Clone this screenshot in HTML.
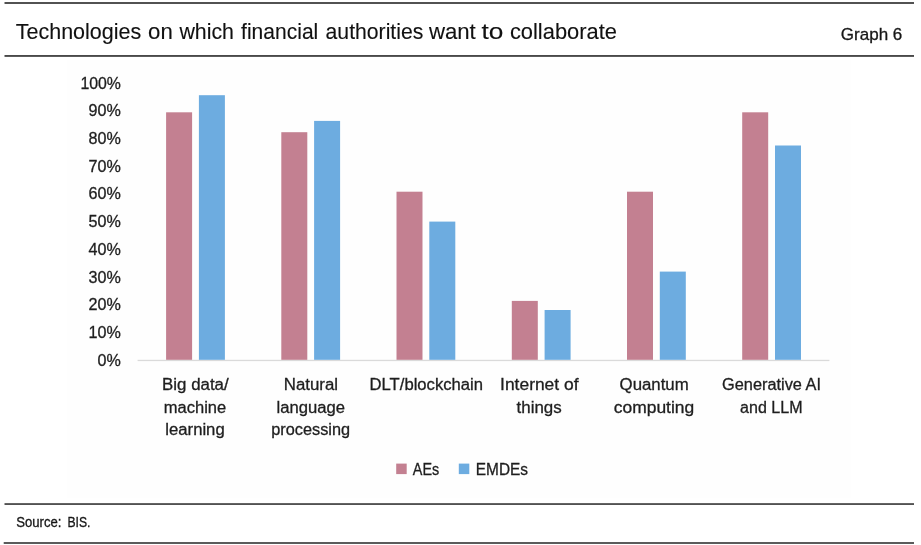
<!DOCTYPE html>
<html lang="en">
<head>
<meta charset="utf-8">
<title>Technologies on which financial authorities want to collaborate</title>
<style>
html,body{margin:0;padding:0;background:#fff;}
body{width:921px;height:545px;overflow:hidden;}
svg{display:block;}
text{font-family:"Liberation Sans",sans-serif;fill:#161616;stroke:#161616;stroke-width:0.3px;}
.t{font-size:21.4px;fill:#111;stroke:#111;stroke-width:0.12px;}
.g{font-size:17px;}
.a{font-size:16.2px;fill:#1e1e1e;stroke:#1e1e1e;}
.x{font-size:16px;fill:#1e1e1e;stroke:#1e1e1e;}
.s{font-size:14.3px;}
</style>
</head>
<body>
<svg width="921" height="545" viewBox="0 0 921 545">
<rect width="921" height="545" fill="#ffffff"/>
<rect x="67" y="60" width="783.7" height="438" fill="#fefefe"/>
<rect x="4.5" y="2.10" width="909.5" height="1.8" fill="#404040"/>
<rect x="4.5" y="55.05" width="909.5" height="1.8" fill="#404040"/>
<rect x="4.5" y="503.20" width="909.5" height="1.7" fill="#404040"/>
<rect x="3.7" y="542.15" width="910.3" height="1.7" fill="#404040"/>
<text class="t" y="38.7"><tspan x="15.7" textLength="125.6" lengthAdjust="spacingAndGlyphs">Technologies</tspan> <tspan x="148.1" textLength="24.7" lengthAdjust="spacingAndGlyphs">on</tspan> <tspan x="179.4" textLength="54.6" lengthAdjust="spacingAndGlyphs">which</tspan> <tspan x="241.1" textLength="77.2" lengthAdjust="spacingAndGlyphs">financial</tspan> <tspan x="325.6" textLength="97.7" lengthAdjust="spacingAndGlyphs">authorities</tspan> <tspan x="428.9" textLength="46.9" lengthAdjust="spacingAndGlyphs">want</tspan> <tspan x="481.4" textLength="21.9" lengthAdjust="spacingAndGlyphs">to</tspan> <tspan x="509.9" textLength="107.1" lengthAdjust="spacingAndGlyphs">collaborate</tspan></text>
<text class="g" x="840.8" y="39.6" textLength="61.5" lengthAdjust="spacingAndGlyphs">Graph 6</text>
<text class="a" x="97.6" y="365.7" textLength="23.3" lengthAdjust="spacingAndGlyphs">0%</text>
<text class="a" x="88.6" y="338.0" textLength="32.3" lengthAdjust="spacingAndGlyphs">10%</text>
<text class="a" x="88.6" y="310.3" textLength="32.3" lengthAdjust="spacingAndGlyphs">20%</text>
<text class="a" x="88.6" y="282.5" textLength="32.3" lengthAdjust="spacingAndGlyphs">30%</text>
<text class="a" x="88.6" y="254.8" textLength="32.3" lengthAdjust="spacingAndGlyphs">40%</text>
<text class="a" x="88.6" y="227.1" textLength="32.3" lengthAdjust="spacingAndGlyphs">50%</text>
<text class="a" x="88.6" y="199.4" textLength="32.3" lengthAdjust="spacingAndGlyphs">60%</text>
<text class="a" x="88.6" y="171.7" textLength="32.3" lengthAdjust="spacingAndGlyphs">70%</text>
<text class="a" x="88.6" y="143.9" textLength="32.3" lengthAdjust="spacingAndGlyphs">80%</text>
<text class="a" x="88.6" y="116.2" textLength="32.3" lengthAdjust="spacingAndGlyphs">90%</text>
<text class="a" x="80.4" y="88.5" textLength="40.5" lengthAdjust="spacingAndGlyphs">100%</text>
<rect x="137.6" y="359.8" width="691.8" height="1.3" fill="#dadada"/>
<rect x="166.1" y="112.3" width="26.0" height="247.5" fill="#c38091"/>
<rect x="198.9" y="95.2" width="26.0" height="264.6" fill="#6dace0"/>
<rect x="281.3" y="132.2" width="26.0" height="227.6" fill="#c38091"/>
<rect x="314.1" y="120.9" width="26.0" height="238.9" fill="#6dace0"/>
<rect x="396.5" y="191.7" width="26.0" height="168.1" fill="#c38091"/>
<rect x="429.3" y="221.6" width="26.0" height="138.2" fill="#6dace0"/>
<rect x="511.8" y="300.9" width="26.0" height="58.9" fill="#c38091"/>
<rect x="544.6" y="310.0" width="26.0" height="49.8" fill="#6dace0"/>
<rect x="627.0" y="191.7" width="26.0" height="168.1" fill="#c38091"/>
<rect x="659.8" y="271.6" width="26.0" height="88.2" fill="#6dace0"/>
<rect x="742.2" y="112.3" width="26.0" height="247.5" fill="#c38091"/>
<rect x="775.0" y="145.5" width="26.0" height="214.3" fill="#6dace0"/>
<text class="x" x="162.1" y="390.3" textLength="66.6" lengthAdjust="spacingAndGlyphs">Big data/</text>
<text class="x" x="163.8" y="412.7" textLength="62.4" lengthAdjust="spacingAndGlyphs">machine</text>
<text class="x" x="165.3" y="435.1" textLength="59.4" lengthAdjust="spacingAndGlyphs">learning</text>
<text class="x" x="283.8" y="390.3" textLength="54.2" lengthAdjust="spacingAndGlyphs">Natural</text>
<text class="x" x="276.6" y="412.7" textLength="68.4" lengthAdjust="spacingAndGlyphs">language</text>
<text class="x" x="271.3" y="435.1" textLength="78.7" lengthAdjust="spacingAndGlyphs">processing</text>
<text class="x" x="369.6" y="390.3" textLength="113.4" lengthAdjust="spacingAndGlyphs">DLT/blockchain</text>
<text class="x" x="500.1" y="390.3" textLength="78.4" lengthAdjust="spacingAndGlyphs">Internet of</text>
<text class="x" x="516.6" y="412.7" textLength="45.1" lengthAdjust="spacingAndGlyphs">things</text>
<text class="x" x="619.6" y="390.3" textLength="69.1" lengthAdjust="spacingAndGlyphs">Quantum</text>
<text class="x" x="613.8" y="412.7" textLength="80.4" lengthAdjust="spacingAndGlyphs">computing</text>
<text class="x" x="722.1" y="390.3" textLength="98.9" lengthAdjust="spacingAndGlyphs">Generative AI</text>
<text class="x" x="740.1" y="412.7" textLength="62.4" lengthAdjust="spacingAndGlyphs">and LLM</text>
<rect x="396.2" y="463.6" width="10.5" height="10.5" fill="#c38091"/>
<text class="x" x="412.8" y="475.3" textLength="26.4" lengthAdjust="spacingAndGlyphs">AEs</text>
<rect x="458.8" y="463.6" width="10.5" height="10.5" fill="#6dace0"/>
<text class="x" x="475.8" y="475.3" textLength="52.2" lengthAdjust="spacingAndGlyphs">EMDEs</text>
<text class="s" y="527.2"><tspan x="16.2" textLength="45.3" lengthAdjust="spacingAndGlyphs">Source:</tspan> <tspan x="67.5" textLength="23.0" lengthAdjust="spacingAndGlyphs">BIS.</tspan></text>
</svg>
</body>
</html>
